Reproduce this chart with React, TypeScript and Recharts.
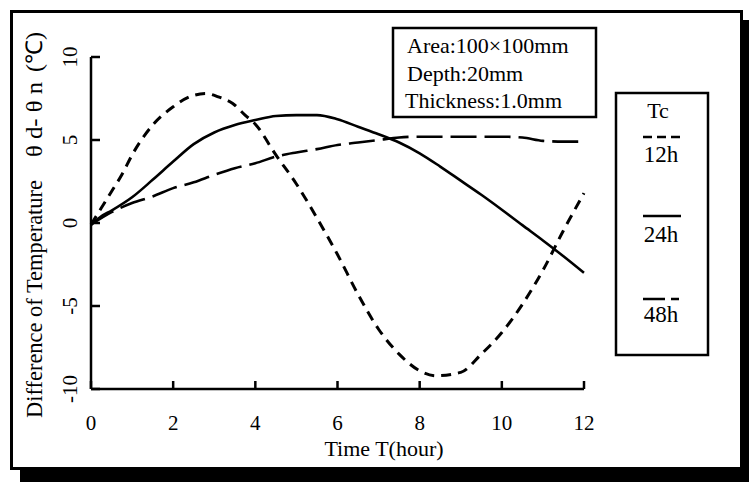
import React from 'react';
import { LineChart, Line, XAxis, YAxis } from 'recharts';

const time12 = [0, 0.25, 0.5, 0.75, 1, 1.5, 2, 2.4, 2.8, 3.1, 3.45, 3.75, 4, 4.5, 5, 5.5, 6, 6.5, 7, 7.5, 8, 8.4, 9, 9.5, 10, 10.5, 11, 11.5, 12];
const val12 = [-0.1, 0.9, 1.9, 2.9, 4.1, 5.9, 7.0, 7.6, 7.8, 7.6, 7.2, 6.5, 5.95, 4.1, 2.35, 0.3, -1.9, -4.3, -6.4, -7.9, -8.9, -9.2, -9.0, -7.9, -6.6, -4.9, -2.85, -0.45, 1.8];

const time24 = [0, 0.25, 0.5, 1, 1.5, 2, 2.5, 3, 3.5, 4, 4.5, 5, 5.5, 6, 6.5, 7, 7.5, 8, 8.5, 9, 9.5, 10, 10.5, 11, 11.5, 12];
const val24 = [-0.1, 0.4, 0.75, 1.55, 2.6, 3.7, 4.75, 5.45, 5.9, 6.2, 6.45, 6.5, 6.5, 6.25, 5.8, 5.35, 4.85, 4.2, 3.4, 2.55, 1.7, 0.8, -0.13, -1.05, -2.0, -3.0];

const time48 = [0, 0.5, 1, 1.5, 2, 2.5, 3, 3.5, 4, 4.5, 5, 5.5, 6, 6.5, 7, 7.5, 8, 9, 10, 10.5, 11, 11.5, 12];
const val48 = [-0.1, 0.65, 1.2, 1.6, 2.1, 2.45, 2.9, 3.3, 3.6, 4.0, 4.25, 4.45, 4.7, 4.85, 5.0, 5.15, 5.2, 5.2, 5.2, 5.15, 4.95, 4.9, 4.9];

const xTicks = [0, 2, 4, 6, 8, 10, 12];
const yTicks = [-10, -5, 0, 5, 10];
const seriesNames = ['12h', '24h', '48h'];
const infoLines = ['Area:100×100mm', 'Depth:20mm', 'Thickness:1.0mm'];
const yTitleParts = ['Difference of Temperature', 'θ d- θ n', '(℃)'];

const d12 = time12.map((t, i) => ({ t, v: val12[i] }));
const d24 = time24.map((t, i) => ({ t, v: val24[i] }));
const d48 = time48.map((t, i) => ({ t, v: val48[i] }));

const FONT = '"Liberation Serif", "Times New Roman", serif';

const XTick = (props: any) => {
  const { x, payload } = props;
  return (
    <text x={x} y={423} textAnchor="middle" dominantBaseline="central" fontFamily={FONT} fontSize={21} fill="#000">
      {payload.value}
    </text>
  );
};

const YTick = (props: any) => {
  const { y, payload } = props;
  return (
    <text x={70} y={y} transform={`rotate(-90 70 ${y})`} textAnchor="middle" dominantBaseline="central" fontFamily={FONT} fontSize={21} fill="#000">
      {payload.value}
    </text>
  );
};

const YLabel = () => {
  const starts = [418, 157, 72];
  const lens = [238, 75, 40];
  return (
    <g>
      {yTitleParts.map((s, i) => (
        <text
          key={s}
          x={34}
          y={starts[i]}
          transform={`rotate(-90 34 ${starts[i]})`}
          textAnchor="start"
          dominantBaseline="central"
          fontFamily={FONT}
          fontSize={23}
          fill="#000"
          textLength={lens[i]}
          lengthAdjust="spacingAndGlyphs"
        >
          {s}
        </text>
      ))}
    </g>
  );
};

const XLabel = () => (
  <text x={384} y={448} textAnchor="middle" dominantBaseline="central" fontFamily={FONT} fontSize={22} fill="#000">
    Time T(hour)
  </text>
);

export default function App() {
  const dashes = ['10 7', '', '26 8'];
  const widths = [3, 2.6, 2.6];
  return (
    <div style={{ position: 'absolute', left: 0, top: 0, width: 749, height: 482, background: '#fff' }}>
      <svg width={749} height={482} style={{ position: 'absolute', left: 0, top: 0 }}>
        <rect x={20} y={20} width={729} height={462} fill="#000" />
        <rect x={11.5} y={11.5} width={730} height={457} fill="#fff" stroke="#000" strokeWidth={3} />
      </svg>
      <div style={{ position: 'absolute', left: 0, top: 0 }}>
        <LineChart width={749} height={482} data={d24} margin={{ top: 57, right: 165, bottom: 53, left: 31 }}>
          <XAxis
            dataKey="t"
            type="number"
            domain={[0, 12]}
            ticks={xTicks}
            tick={<XTick />}
            tickSize={-8}
            height={40}
            axisLine={{ stroke: '#000', strokeWidth: 2.5 }}
            tickLine={{ stroke: '#000', strokeWidth: 2.5 }}
            label={<XLabel />}
          />
          <YAxis
            type="number"
            domain={[-10, 10]}
            ticks={yTicks}
            tick={<YTick />}
            tickSize={-9}
            width={60}
            axisLine={{ stroke: '#000', strokeWidth: 2.5 }}
            tickLine={{ stroke: '#000', strokeWidth: 2.5 }}
            label={<YLabel />}
          />
          <Line data={d12} dataKey="v" name={seriesNames[0]} type="monotone" stroke="#000" strokeWidth={widths[0]} strokeDasharray={dashes[0]} dot={false} isAnimationActive={false} />
          <Line data={d24} dataKey="v" name={seriesNames[1]} type="monotone" stroke="#000" strokeWidth={widths[1]} dot={false} isAnimationActive={false} />
          <Line data={d48} dataKey="v" name={seriesNames[2]} type="monotone" stroke="#000" strokeWidth={widths[2]} strokeDasharray={dashes[2]} dot={false} isAnimationActive={false} />
        </LineChart>
      </div>
      <svg width={749} height={482} style={{ position: 'absolute', left: 0, top: 0, pointerEvents: 'none' }}>
        <rect x={393} y={28} width={203} height={89} fill="#fff" stroke="#000" strokeWidth={2.5} />
        {infoLines.map((s, i) => (
          <text key={s} x={i === 2 ? 405 : 407} y={53 + i * 27.5} fontFamily={FONT} fontSize={22} fill="#000">{s}</text>
        ))}
        <rect x={616} y={93} width={92} height={262} fill="#fff" stroke="#000" strokeWidth={2.5} />
        <text x={658} y={118} textAnchor="middle" fontFamily={FONT} fontSize={22} fill="#000">Tc</text>
        {seriesNames.map((s, i) => {
          const ly = [137, 216, 299][i];
          const ty = [162, 242, 322][i];
          return (
            <g key={s}>
              <line x1={643} x2={681} y1={ly} y2={ly} stroke="#000" strokeWidth={2.6} strokeDasharray={['9 5', '', '22 6 8'][i]} />
              <text x={661} y={ty} textAnchor="middle" fontFamily={FONT} fontSize={23} fill="#000">{s}</text>
            </g>
          );
        })}
      </svg>
    </div>
  );
}
